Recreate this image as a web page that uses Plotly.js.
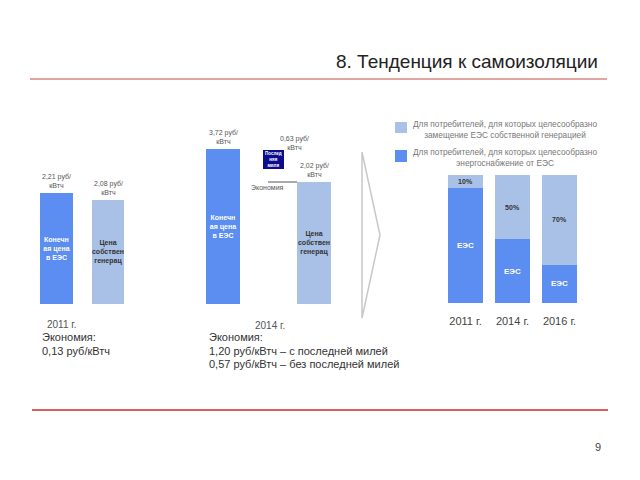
<!DOCTYPE html>
<html>
<head>
<meta charset="utf-8">
<script src="https://cdn.plot.ly/plotly-3.0.1.min.js"></script>
<style>html,body{margin:0;padding:0;background:#fff;}#chart{width:640px;height:480px;}</style>
</head>
<body>
<div id="chart"></div>
<script>
// ---- data ----
const pricePositions = [0, 1];
const prices2011 = [2.21, 2.08];
const priceLabels2011 = ['2,21 руб/<br>кВтч', '2,08 руб/<br>кВтч'];
const prices2014Drawn = [3.72, 2.93];
const priceLabels2014 = ['3,72 руб/<br>кВтч', '2,02 руб/<br>кВтч'];
const barTexts = ['<b>Конечн<br>ая цена<br>в ЕЭС</b>', '<b>Цена<br>собствен<br>генерац</b>'];
const shareYears = ['2011 г.', '2014 г.', '2016 г.'];
const shareEES = [90, 50, 30];
const shareOwn = [10, 50, 70];

const BLUE = '#5b8ef0', LIGHT = '#a9c1e6', NAVY = '#0c0c8c';
const FONT = 'Liberation Sans, Arial, sans-serif';
const px = x => x / 640, py = y => 1 - y / 480;

const traces = [
  {type:'bar', x: pricePositions, y: prices2011, width:[0.64,0.62], xaxis:'x', yaxis:'y',
   marker:{color:[BLUE, LIGHT]}, text: barTexts, textposition:'inside', insidetextanchor:'middle',
   constraintext:'none', textangle:0, textfont:{size:7, color:['#ffffff','#333333'], family:FONT}, hoverinfo:'none'},
  {type:'bar', x: pricePositions, y: prices2014Drawn, width:[0.374,0.374], xaxis:'x2', yaxis:'y2',
   marker:{color:[BLUE, LIGHT]}, text: barTexts, textposition:'inside', insidetextanchor:'middle',
   constraintext:'none', textangle:0, textfont:{size:7, color:['#ffffff','#333333'], family:FONT}, hoverinfo:'none'},
  {type:'bar', x:[0,1,2], y: shareEES, width:0.745, xaxis:'x3', yaxis:'y3',
   marker:{color:BLUE}, text: shareEES.map(()=>'<b>ЕЭС</b>'), textposition:'inside', insidetextanchor:'middle',
   constraintext:'none', textangle:0, textfont:{size:8, color:'#ffffff', family:FONT}, hoverinfo:'none'},
  {type:'bar', x:[0,1,2], y: shareOwn, width:0.745, xaxis:'x3', yaxis:'y3',
   marker:{color:LIGHT}, text: shareOwn.map(v=>'<b>'+v+'%</b>'), textposition:'inside', insidetextanchor:'middle',
   constraintext:'none', textangle:0, textfont:{size:7, color:'#333333', family:FONT}, hoverinfo:'none'}
];

const hidden = {showgrid:false, zeroline:false, showline:false, showticklabels:false, ticks:''};

const ann = [];
function t(x, y, text, size, color, xanchor, extra) {
  ann.push(Object.assign({xref:'paper', yref:'paper', x:px(x), y:py(y), text:text, showarrow:false,
    xanchor:xanchor||'center', yanchor:'middle', align: xanchor==='left'?'left':'center',
    font:{size:size, color:color, family:FONT}}, extra||{}));
}
// title & page number
t(600, 61, '8. Тенденция к самоизоляции', 19, '#222', 'right');
t(598, 447, '9', 11, '#444', 'center');
// value labels
priceLabels2011.forEach((s,i)=>ann.push({xref:'x', yref:'y', x:pricePositions[i], y:prices2011[i], yshift:2,
  yanchor:'bottom', text:s, showarrow:false, font:{size:7, color:'#555', family:FONT}}));
priceLabels2014.forEach((s,i)=>ann.push({xref:'x2', yref:'y2', x:pricePositions[i], y:prices2014Drawn[i], yshift:2,
  yanchor:'bottom', text:s, showarrow:false, font:{size:7, color:'#555', family:FONT}}));
t(294, 143, '0,63 руб/<br>кВтч', 7, '#555');
// last mile box text
t(273.5, 159.5, '<b>Послед<br>няя<br>миля</b>', 4.5, '#fff');
t(249, 187, 'Экономия', 7, '#555', 'left');
// chart 1 captions
t(62, 324, '2011 г.', 10, '#555');
t(40, 337, 'Экономия:', 11, '#333', 'left');
t(40, 351, '0,13 руб/кВтч', 11, '#333', 'left');
// chart 2 captions
t(270, 325, '2014 г.', 10, '#555');
t(207, 337, 'Экономия:', 11, '#333', 'left');
t(207, 351, '1,20 руб/кВтч – с последней милей', 11, '#333', 'left');
t(207, 364, '0,57 руб/кВтч – без последней милей', 11, '#333', 'left');
// legend
t(505, 130, 'Для потребителей, для которых целесообразно<br>замещение ЕЭС собственной генерацией', 8.3, '#777');
t(505, 158, 'Для потребителей, для которых целесообразно<br>энергоснабжение от ЕЭС', 8.3, '#777');

const shapes = [
  {type:'line', xref:'paper', yref:'paper', x0:px(30), x1:px(607), y0:py(79), y1:py(79), line:{color:'#d98880', width:1.5}},
  {type:'line', xref:'paper', yref:'paper', x0:px(32), x1:px(608), y0:py(410), y1:py(410), line:{color:'#cc2a2a', width:1.5}},
  {type:'path', xref:'paper', yref:'paper',
   path:`M ${px(362)},${py(152)} L ${px(380)},${py(235)} L ${px(362)},${py(318)} Z`, line:{color:'#c8c8c8', width:1.5}},
  {type:'rect', xref:'paper', yref:'paper', x0:px(263), x1:px(284), y0:py(150), y1:py(169), fillcolor:NAVY, line:{width:0}},
  {type:'line', xref:'paper', yref:'paper', x0:px(268), x1:px(297), y0:py(182), y1:py(182), line:{color:'#555', width:1}},
  {type:'rect', xref:'paper', yref:'paper', x0:px(395), x1:px(407), y0:py(122), y1:py(133), fillcolor:LIGHT, line:{width:0}},
  {type:'rect', xref:'paper', yref:'paper', x0:px(395), x1:px(407), y0:py(150), y1:py(162), fillcolor:BLUE, line:{width:0}}
];

const layout = {
  width:640, height:480, margin:{l:0, r:0, t:0, b:0}, showlegend:false, barmode:'stack',
  paper_bgcolor:'#fff', plot_bgcolor:'rgba(0,0,0,0)', font:{family:FONT},
  xaxis: Object.assign({domain:[px(30.75), px(133.75)], range:[-0.5,1.5], anchor:'y'}, hidden),
  yaxis: Object.assign({domain:[py(304), py(153.35)], range:[0,3], anchor:'x'}, hidden),
  xaxis2: Object.assign({domain:[px(177.5), px(359.5)], range:[-0.5,1.5], anchor:'y2'}, hidden),
  yaxis2: Object.assign({domain:[py(304), py(137.3)], range:[0,4], anchor:'x2'}, hidden),
  xaxis3: {domain:[px(442), px(583)], range:[-0.5,2.5], anchor:'y3', showgrid:false, zeroline:false, showline:false,
    tickvals:[0,1,2], ticktext:shareYears, ticks:'outside', ticklen:8, tickcolor:'rgba(0,0,0,0)',
    tickfont:{size:11, color:'#444', family:FONT}},
  yaxis3: Object.assign({domain:[py(303), py(175)], range:[0,100], anchor:'x3'}, hidden),
  annotations: ann, shapes: shapes
};
Plotly.newPlot('chart', traces, layout, {staticPlot:true});
</script>
</body>
</html>
